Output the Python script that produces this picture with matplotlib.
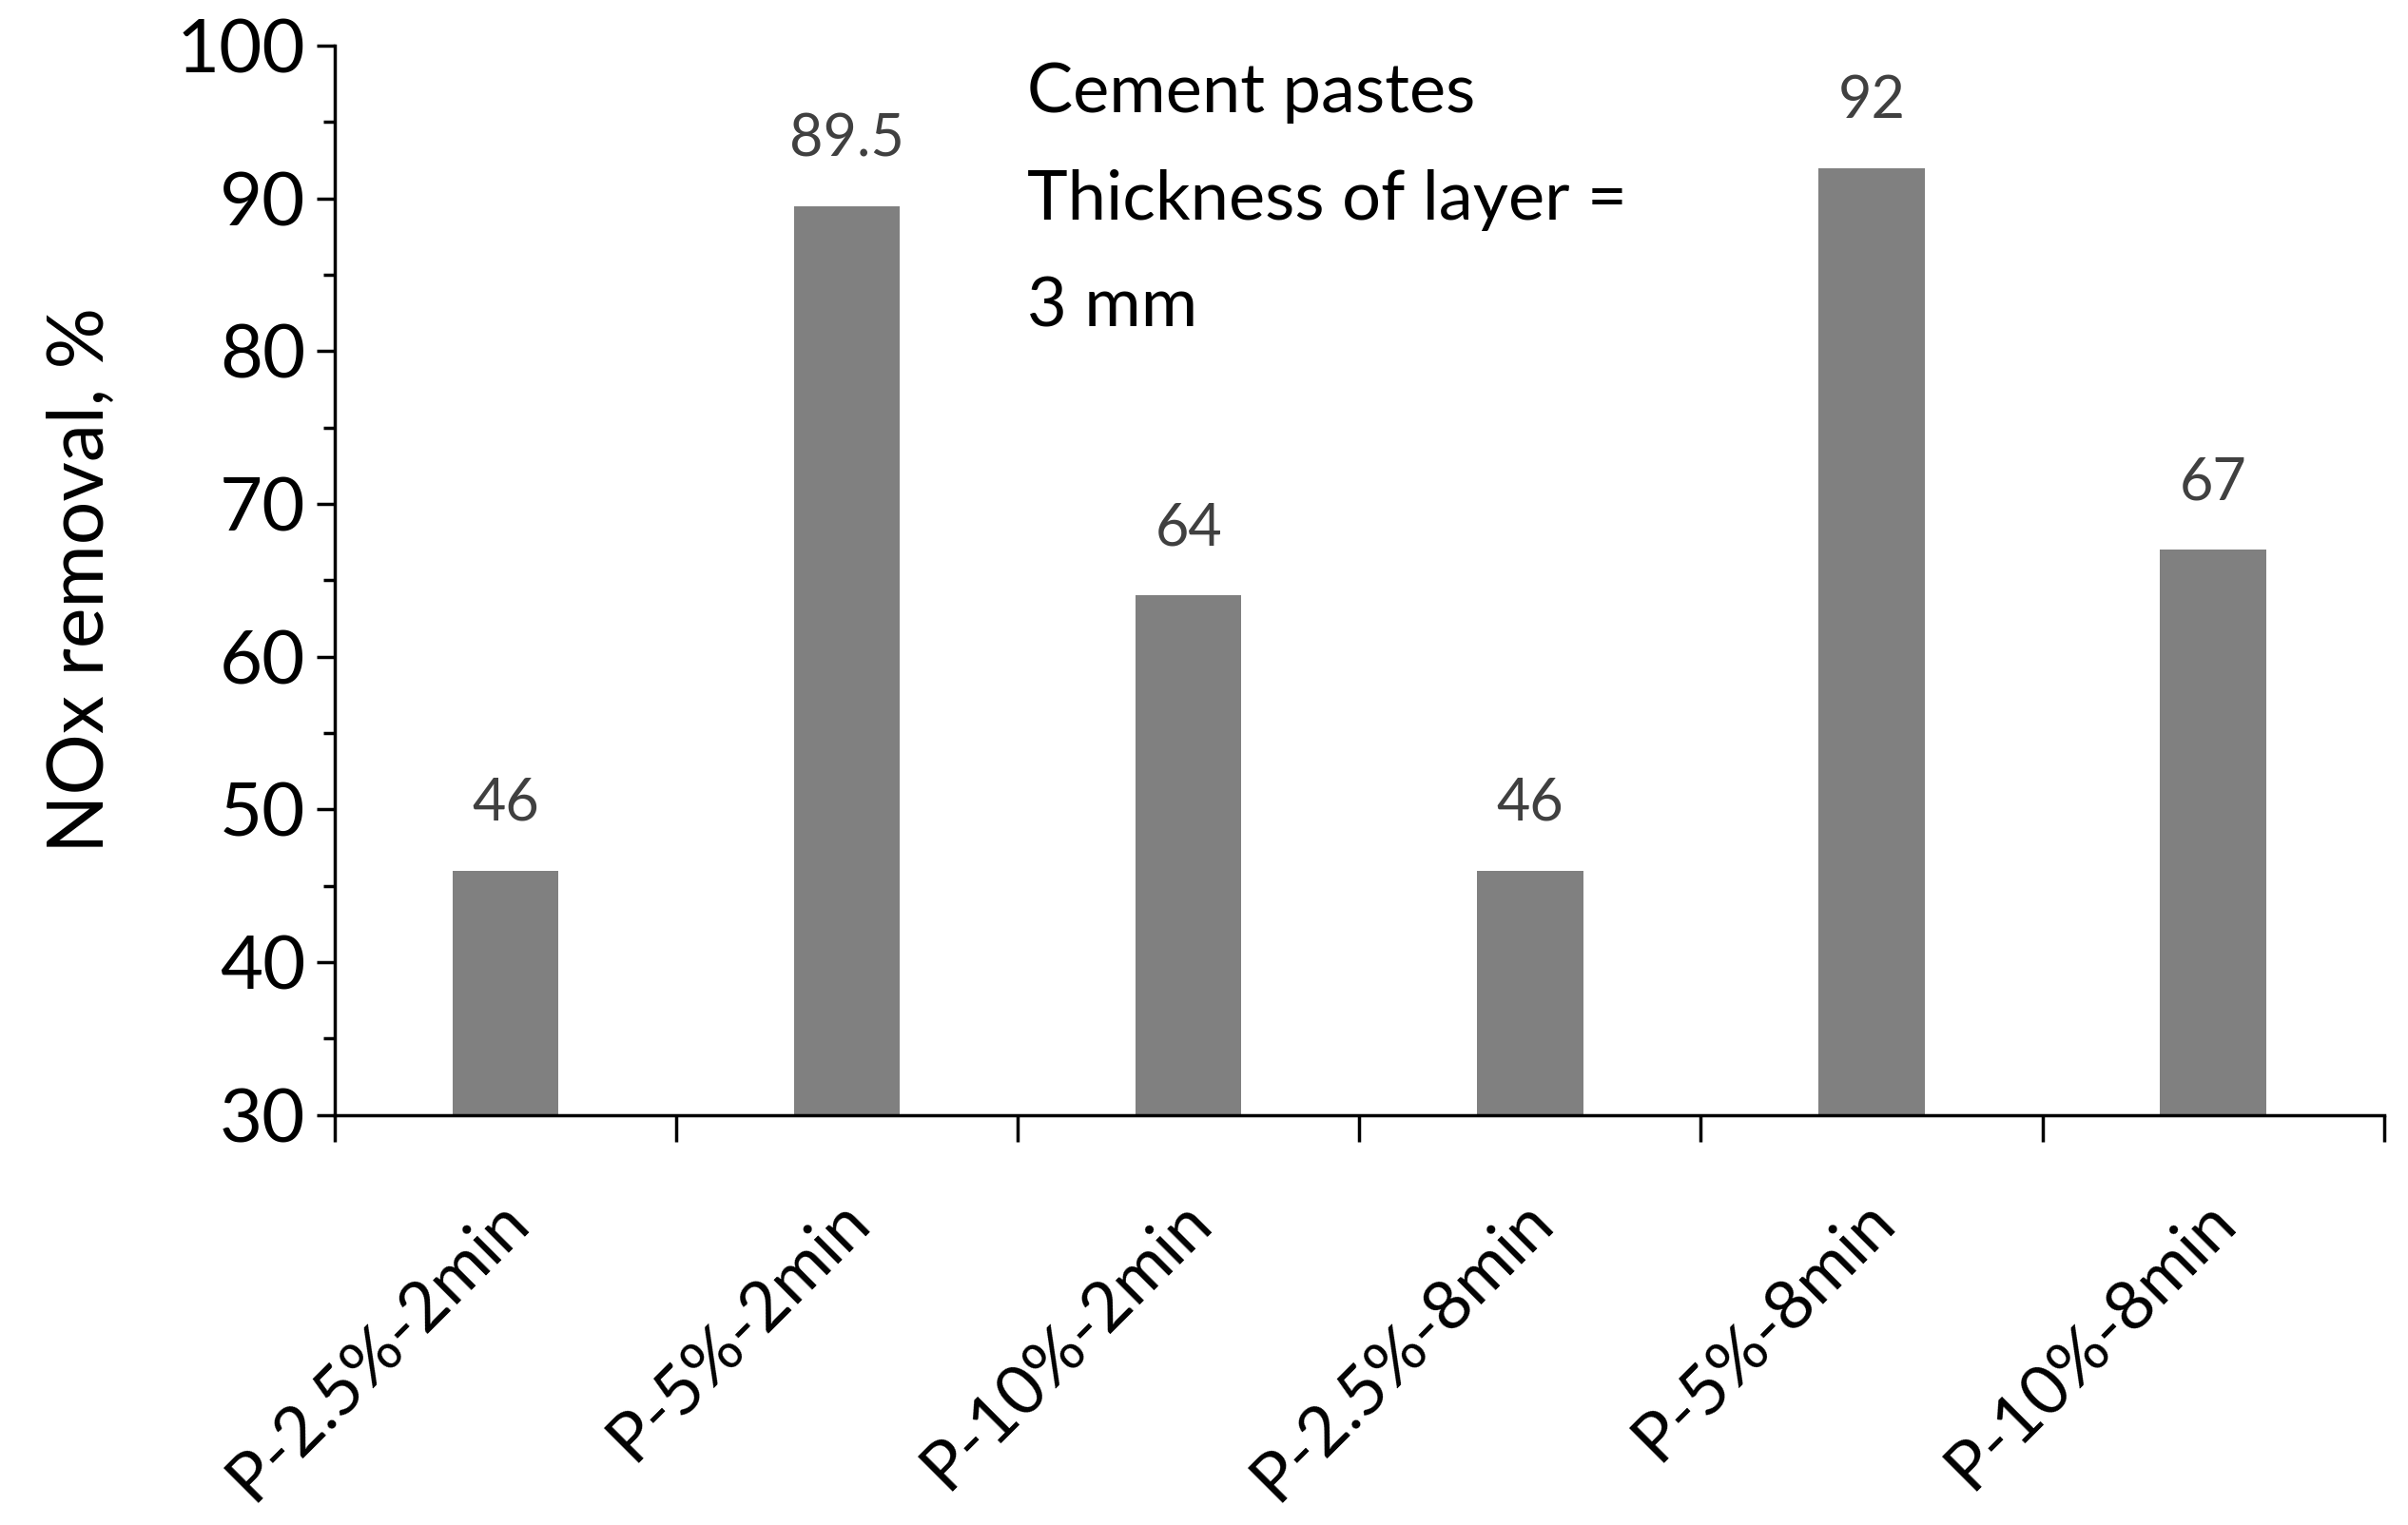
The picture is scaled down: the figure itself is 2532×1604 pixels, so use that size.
import numpy as np
import matplotlib
matplotlib.use('Agg')
import matplotlib.pyplot as plt
from matplotlib.ticker import MultipleLocator, FixedLocator
import matplotlib.transforms as mtransforms

# 数据
categories = ['P-2.5%-2min', 'P-5%-2min', 'P-10%-2min', 'P-2.5%-8min', 'P-5%-8min', 'P-10%-8min']
nox_removal = [46, 89.5, 64, 46, 92, 67]
value_labels = ['46', '89.5', '64', '46', '92', '67']
note_lines = ['Cement pastes', 'Thickness of layer =', '3 mm']

plt.rcParams['font.family'] = ['Lato', 'DejaVu Sans']

fig = plt.figure(figsize=(25.32, 16.04), dpi=100)
ax = fig.add_axes([0.139, 0.269, 0.851, 0.701])

x = np.arange(len(categories))
ax.bar(x, [v - 30 for v in nox_removal], bottom=30, width=0.31, color='#808080')

for xi, v, lab in zip(x, nox_removal, value_labels):
    ax.annotate(lab, (xi, v), xytext=(0, 30), textcoords='offset points',
                ha='center', va='bottom', fontsize=44, color='#404040')

ax.set_xlim(-0.5, len(categories) - 0.5)
ax.set_ylim(30, 100)
ax.yaxis.set_major_locator(MultipleLocator(10))
ax.yaxis.set_minor_locator(MultipleLocator(5))
ax.set_xticks(x)
ax.set_xticklabels(categories, rotation=45, ha='right', va='center', rotation_mode='anchor', fontsize=52)
ax.xaxis.set_minor_locator(FixedLocator(np.arange(-0.5, len(categories), 1)))

# 刻度线样式
ax.tick_params(axis='x', which='major', length=0, pad=72)
ax.tick_params(axis='x', which='minor', length=20, width=2.5, direction='out')
ax.tick_params(axis='y', which='major', length=14, width=2.5, labelsize=56, pad=8)
ax.tick_params(axis='y', which='minor', length=9, width=2.5)

offset = mtransforms.ScaledTranslation(0.12, 0, fig.dpi_scale_trans)
for lbl in ax.get_xticklabels():
    lbl.set_transform(lbl.get_transform() + offset)

for s in ['top', 'right']:
    ax.spines[s].set_visible(False)
for s in ['left', 'bottom']:
    ax.spines[s].set_linewidth(2.5)

ax.set_ylabel('NOx removal, %', fontsize=58, labelpad=45)

ax.text(0.338, 0.985, '\n'.join(note_lines), transform=ax.transAxes,
        ha='left', va='top', fontsize=52, linespacing=1.9)

fig.savefig('out.png', dpi=100)
